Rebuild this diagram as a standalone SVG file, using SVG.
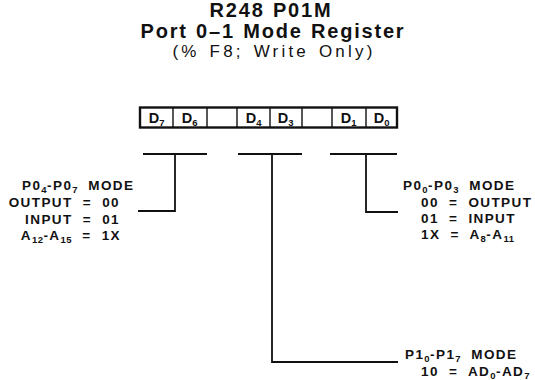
<svg xmlns="http://www.w3.org/2000/svg" width="535" height="380" viewBox="0 0 535 380">
<style>
.t{font-family:"Liberation Sans",Arial,sans-serif;font-weight:bold;fill:#111}
.title{font-size:20px;letter-spacing:1.8px;word-spacing:1px;text-anchor:middle}
.sub{font-family:"Liberation Sans",Arial,sans-serif;font-size:17px;letter-spacing:3.2px;word-spacing:2px;text-anchor:middle;fill:#111}
.lab{font-size:13.5px;letter-spacing:1.4px;word-spacing:5px}
.cell{font-size:14.5px;text-anchor:middle}
.s{font-size:9.5px;letter-spacing:0.5px}
.ln{stroke:#111;stroke-width:1.8;fill:none}
.box{stroke:#111;stroke-width:2.4;fill:#fff}
.div{stroke:#111;stroke-width:1.4}
</style>
<g id="title">
<text class="t title" x="271" y="16.5">R248 P01M</text>
<text class="t title" x="273" y="37.5">Port 0–1 Mode Register</text>
<text class="sub" x="274" y="57">(% F8; Write Only)</text>
</g>
<g id="register">
<rect class="box" x="140" y="107.5" width="257" height="20"/>
<line class="div" x1="173" y1="107.5" x2="173" y2="127.5"/>
<line class="div" x1="207" y1="107.5" x2="207" y2="127.5"/>
<line class="div" x1="237" y1="107.5" x2="237" y2="127.5"/>
<line class="div" x1="270" y1="107.5" x2="270" y2="127.5"/>
<line class="div" x1="302" y1="107.5" x2="302" y2="127.5"/>
<line class="div" x1="332" y1="107.5" x2="332" y2="127.5"/>
<line class="div" x1="366" y1="107.5" x2="366" y2="127.5"/>
<text class="t cell" x="157" y="123">D<tspan class="s" dy="2.5">7</tspan></text>
<text class="t cell" x="190" y="123">D<tspan class="s" dy="2.5">6</tspan></text>
<text class="t cell" x="254" y="123">D<tspan class="s" dy="2.5">4</tspan></text>
<text class="t cell" x="286" y="123">D<tspan class="s" dy="2.5">3</tspan></text>
<text class="t cell" x="349" y="123">D<tspan class="s" dy="2.5">1</tspan></text>
<text class="t cell" x="382" y="123">D<tspan class="s" dy="2.5">0</tspan></text>
</g>
<g id="connectors">
<line class="ln" x1="143" y1="154" x2="207" y2="154"/>
<line class="ln" x1="238" y1="154" x2="302" y2="154"/>
<line class="ln" x1="330" y1="154" x2="397" y2="154"/>
<polyline class="ln" points="175,154 175,211 138,211"/>
<polyline class="ln" points="272,154 272,362 398,362"/>
<polyline class="ln" points="366,154 366,212 398,212"/>
</g>
<g id="p0-high">
<text class="t lab" x="22" y="190">P0<tspan class="s" dy="3">4</tspan><tspan dy="-3">-P0</tspan><tspan class="s" dy="3">7</tspan><tspan dy="-3"> MODE</tspan></text>
<text class="t lab" x="120" y="207" text-anchor="end">OUTPUT = 00</text>
<text class="t lab" x="120" y="224" text-anchor="end">INPUT = 01</text>
<text class="t lab" x="121" y="240" text-anchor="end">A<tspan class="s" dy="3">12</tspan><tspan dy="-3">-A</tspan><tspan class="s" dy="3">15</tspan><tspan dy="-3"> = 1X</tspan></text>
</g>
<g id="p0-low">
<text class="t lab" x="403" y="190">P0<tspan class="s" dy="3">0</tspan><tspan dy="-3">-P0</tspan><tspan class="s" dy="3">3</tspan><tspan dy="-3"> MODE</tspan></text>
<text class="t lab" x="421" y="207">00 = OUTPUT</text>
<text class="t lab" x="421" y="223">01 = INPUT</text>
<text class="t lab" x="421" y="239">1X = A<tspan class="s" dy="3">8</tspan><tspan dy="-3">-A</tspan><tspan class="s" dy="3">11</tspan></text>
</g>
<g id="p1">
<text class="t lab" x="405" y="359">P1<tspan class="s" dy="3">0</tspan><tspan dy="-3">-P1</tspan><tspan class="s" dy="3">7</tspan><tspan dy="-3"> MODE</tspan></text>
<text class="t lab" x="421" y="376">10 = AD<tspan class="s" dy="3">0</tspan><tspan dy="-3">-AD</tspan><tspan class="s" dy="3">7</tspan></text>
</g>
</svg>
